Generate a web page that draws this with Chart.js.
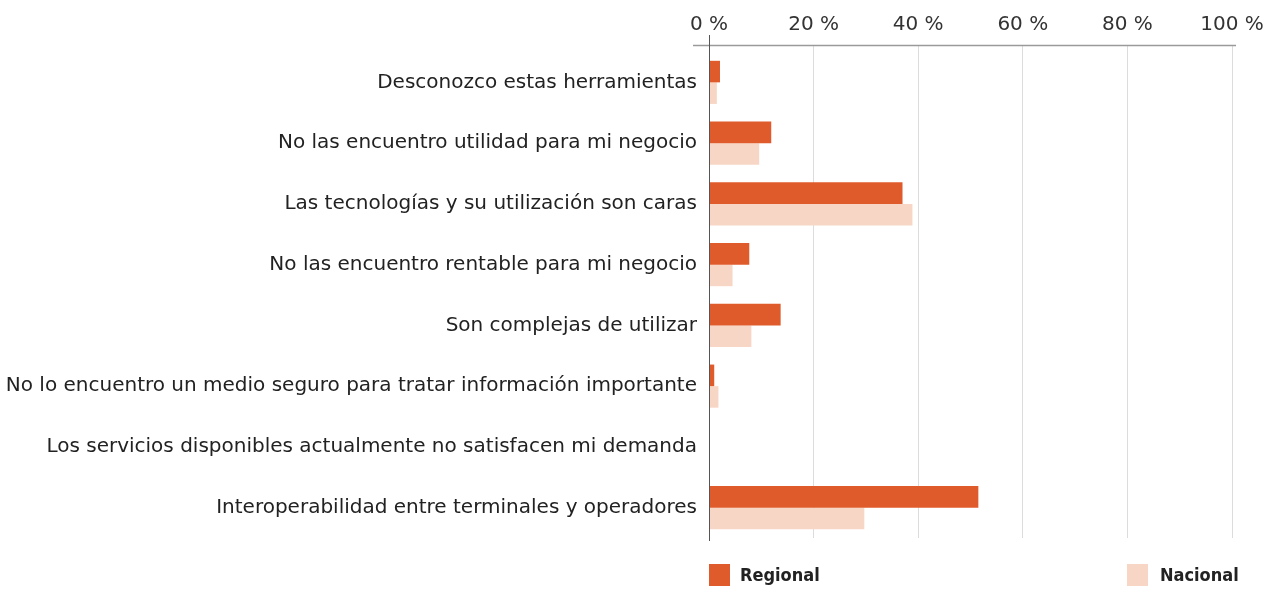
<!DOCTYPE html>
<html>
<head>
<meta charset="utf-8">
<script src="https://cdn.jsdelivr.net/npm/chart.js@4.4.0/dist/chart.umd.min.js"></script>
<style>
   html, body { margin: 0; padding: 0; background: #fff; }
   #wrap { position: relative; width: 1266px; height: 589px; }
   .leg { position: absolute; top: 564px; font: bold 18px "DejaVu Sans Condensed", sans-serif; color: #222; }
   .leg span { display: inline-block; width: 21px; height: 22px; vertical-align: -5px; margin-right: 10px; }
</style>
</head>
<body>
<div id="wrap">
   <canvas id="chart" width="1266" height="589"></canvas>
   <div class="leg" style="left:709px"><span style="background:#E05B2B"></span>Regional</div>
   <div class="leg" style="left:1127px"><span style="background:#F8D6C5"></span><b style="margin-left:2px">Nacional</b></div>
</div>
<script>
//1) DATA//
const categories = [
   'Desconozco estas herramientas',
   'No las encuentro utilidad para mi negocio',
   'Las tecnologías y su utilización son caras',
   'No las encuentro rentable para mi negocio',
   'Son complejas de utilizar',
   'No lo encuentro un medio seguro para tratar información importante',
   'Los servicios disponibles actualmente no satisfacen mi demanda',
   'Interoperabilidad entre terminales y operadores'
];
const regional = [2.1, 11.9, 37.0, 7.7, 13.7, 1.0, 0, 51.5];
const nacional = [1.5, 9.6, 38.9, 4.5, 8.1, 1.8, 0, 29.7];
const xTicks = [0, 20, 40, 60, 80, 100];

const labelFont = { family: 'DejaVu Sans', size: 20 };

//2) AXIS LINES//
const axisLines = {
   id: 'axisLines',
   afterDraw(chart) {
      const c = chart.ctx;
      const x0 = chart.scales.x.getPixelForValue(0);
      c.save();
      c.strokeStyle = '#9a9a9a';
      c.lineWidth = 1.5;
      c.beginPath();
      c.moveTo(693, 45.5);
      c.lineTo(1236, 45.5);
      c.stroke();
      c.strokeStyle = '#555';
      c.lineWidth = 1;
      c.beginPath();
      c.moveTo(x0 + 0.5, 35);
      c.lineTo(x0 + 0.5, chart.chartArea.bottom + 3);
      c.stroke();
      c.restore();
   }
};

//3) CHART//
new Chart(document.getElementById('chart'), {
   type: 'bar',
   data: {
      labels: categories,
      datasets: [{
         label: 'Regional',
         data: regional,
         backgroundColor: '#E05B2B',
         barPercentage: 1,
         categoryPercentage: 0.71
      }, {
         label: 'Nacional',
         data: nacional,
         backgroundColor: '#F8D6C5',
         barPercentage: 1,
         categoryPercentage: 0.71
      }]
   },
   options: {
      indexAxis: 'y',
      responsive: false,
      animation: false,
      layout: { padding: { left: 0, right: 34, top: 0, bottom: 51 } },
      scales: {
         x: {
            position: 'top',
            min: 0,
            max: 100,
            afterBuildTicks: scale => { scale.ticks = xTicks.map(v => ({ value: v })); },
            afterFit: scale => {
               scale.height = 52;
               scale.paddingLeft = 0;
               scale.paddingRight = 0;
            },
            ticks: {
               callback: v => v + ' %',
               font: { family: 'DejaVu Sans', size: 20 },
               color: '#333',
               padding: 8
            },
            grid: { color: '#dcdcdc', lineWidth: 1, tickLength: 7 },
            border: { display: false }
         },
         y: {
            afterFit: scale => { scale.width = 709; },
            ticks: { font: labelFont, color: '#222', padding: 4 },
            grid: { display: false },
            border: { display: false }
         }
      },
      plugins: {
         legend: { display: false },
         tooltip: { enabled: false }
      }
   },
   plugins: [axisLines]
});
</script>
</body>
</html>
